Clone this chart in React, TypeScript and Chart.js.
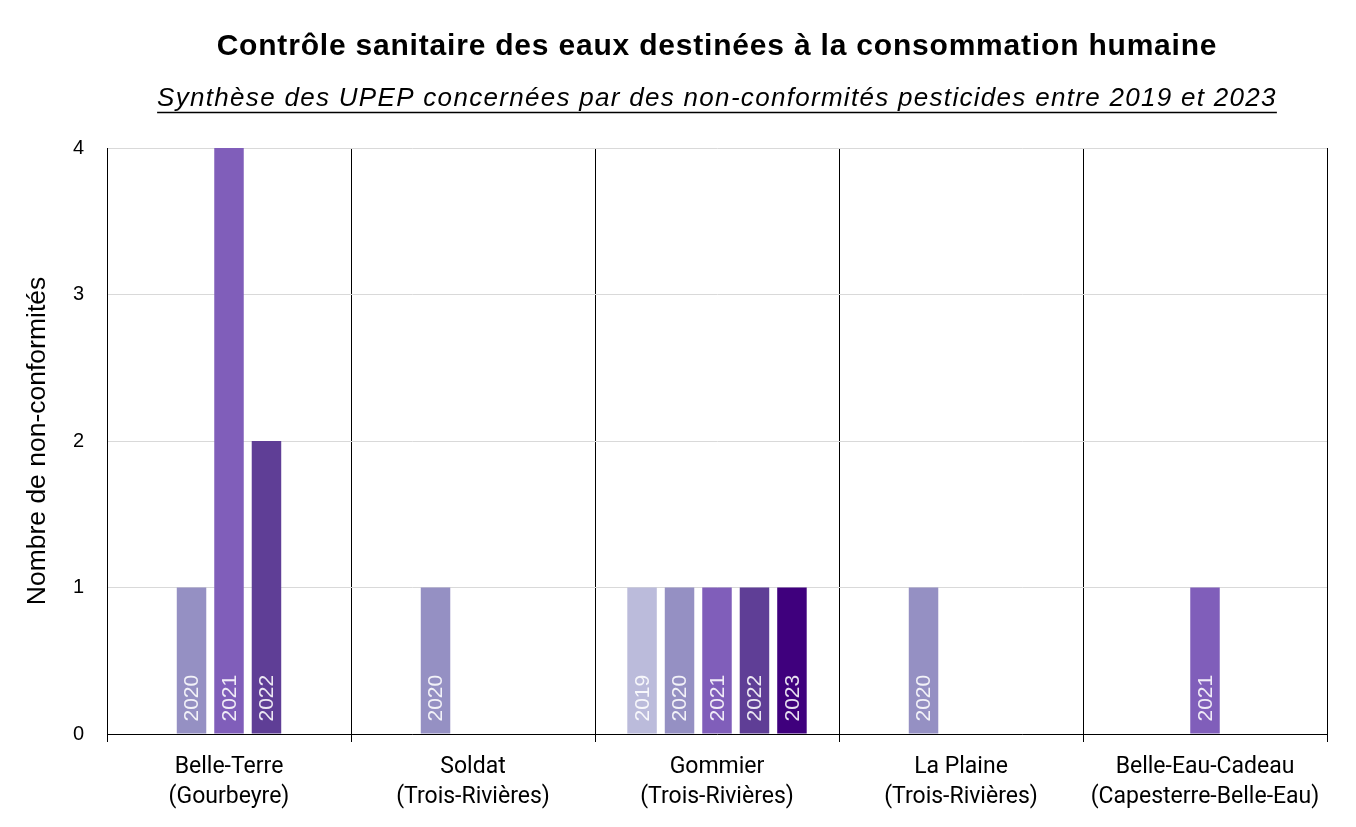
import React, { useEffect, useRef } from "react";
import { Chart, registerables } from "chart.js";

Chart.register(...registerables);

const categories: string[][] = [
  ["Belle-Terre", "(Gourbeyre)"],
  ["Soldat", "(Trois-Rivières)"],
  ["Gommier", "(Trois-Rivières)"],
  ["La Plaine", "(Trois-Rivières)"],
  ["Belle-Eau-Cadeau", "(Capesterre-Belle-Eau)"],
];
const years = ["2019", "2020", "2021", "2022", "2023"];
const values2019 = [null, null, 1, null, null];
const values2020 = [1, 1, 1, 1, null];
const values2021 = [4, null, 1, null, 1];
const values2022 = [2, null, 1, null, null];
const values2023 = [null, null, 1, null, null];
const colors = ["#BBBBDB", "#9590C3", "#805EBA", "#5F3E96", "#3F007D"];
const yTicks = [0, 1, 2, 3, 4];

const title = "Contrôle sanitaire des eaux destinées à la consommation humaine";
const subtitle = "Synthèse des UPEP concernées par des non-conformités pesticides entre 2019 et 2023";
const yTitle = "Nombre de non-conformités";

const titlePlugin = {
  id: "customTitles",
  afterDraw(chart: any) {
    const { ctx, chartArea } = chart;
    const cx = (chartArea.left + chartArea.right) / 2;
    ctx.save();
    ctx.fillStyle = "#000";
    ctx.textAlign = "center";
    ctx.textBaseline = "middle";
    ctx.font = "bold 30px 'Liberation Sans'";
    (ctx as any).letterSpacing = "0.8px";
    ctx.fillText(title, cx, 39);
    ctx.font = "italic 26px 'Liberation Sans'";
    (ctx as any).letterSpacing = "1.3px";
    ctx.fillText(subtitle, cx, 91);
    const w = ctx.measureText(subtitle).width;
    (ctx as any).letterSpacing = "0px";
    ctx.strokeStyle = "#000";
    ctx.lineWidth = 1.5;
    ctx.beginPath();
    ctx.moveTo(cx - w / 2, 104.5);
    ctx.lineTo(cx + w / 2, 104.5);
    ctx.stroke();
    ctx.restore();
  },
};

const barLabelPlugin = {
  id: "barLabels",
  afterDatasetsDraw(chart: any) {
    const { ctx } = chart;
    ctx.save();
    ctx.font = "21px 'Liberation Sans'";
    ctx.fillStyle = "rgba(255,255,255,0.88)";
    ctx.textAlign = "left";
    ctx.textBaseline = "middle";
    chart.data.datasets.forEach((ds: any, di: number) => {
      const meta = chart.getDatasetMeta(di);
      meta.data.forEach((bar: any, i: number) => {
        const v = ds.data[i];
        if (v == null || v <= 0) return;
        ctx.save();
        ctx.translate(bar.x, bar.base - 12);
        ctx.rotate(-Math.PI / 2);
        ctx.fillText(ds.label, 0, 1);
        ctx.restore();
      });
    });
    ctx.restore();
  },
};

export default function App() {
  const ref = useRef<HTMLCanvasElement | null>(null);
  useEffect(() => {
    if (!ref.current) return;
    const series = [values2019, values2020, values2021, values2022, values2023];
    const chart = new Chart(ref.current, {
      type: "bar",
      data: {
        labels: categories,
        datasets: series.map((d, i) => ({
          label: years[i],
          data: d,
          backgroundColor: colors[i],
          barPercentage: 0.787,
          categoryPercentage: 0.768,
        })),
      },
      options: {
        animation: false,
        responsive: true,
        maintainAspectRatio: false,
        layout: { padding: { top: 140, right: 21, left: 0, bottom: 0 } },
        plugins: {
          legend: { display: false },
          tooltip: { enabled: false },
          title: { display: false },
        },
        scales: {
          x: {
            grid: {
              offset: true,
              color: "#000",
              lineWidth: 1,
              tickLength: 8,
              drawOnChartArea: true,
            },
            border: { color: "#000", width: 1 },
            ticks: {
              color: "#000",
              font: { family: "Roboto", size: 23, lineHeight: 1.3 },
              padding: 10,
              maxRotation: 0,
              autoSkip: false,
            },
            afterFit: (s: any) => {
              s.height = 85;
            },
          },
          y: {
            min: 0,
            max: 4,
            afterBuildTicks: (s: any) => {
              s.ticks = yTicks.map((v) => ({ value: v }));
            },
            grid: { color: "#d9d9d9", drawTicks: false, lineWidth: 1 },
            border: { color: "#000", width: 1 },
            ticks: {
              color: "#000",
              font: { family: "Liberation Sans", size: 20 },
              padding: 23,
            },
            title: {
              display: true,
              text: yTitle,
              color: "#000",
              font: { family: "Liberation Sans", size: 26.5, lineHeight: 1.2 },
              padding: { top: 14, bottom: 0 },
            },
            afterFit: (s: any) => {
              s.width = 99;
            },
          },
        },
      },
      plugins: [titlePlugin, barLabelPlugin],
    });
    return () => chart.destroy();
  }, []);
  return (
    <div style={{ width: 1340, height: 811, position: "relative" }}>
      <canvas ref={ref} />
    </div>
  );
}
